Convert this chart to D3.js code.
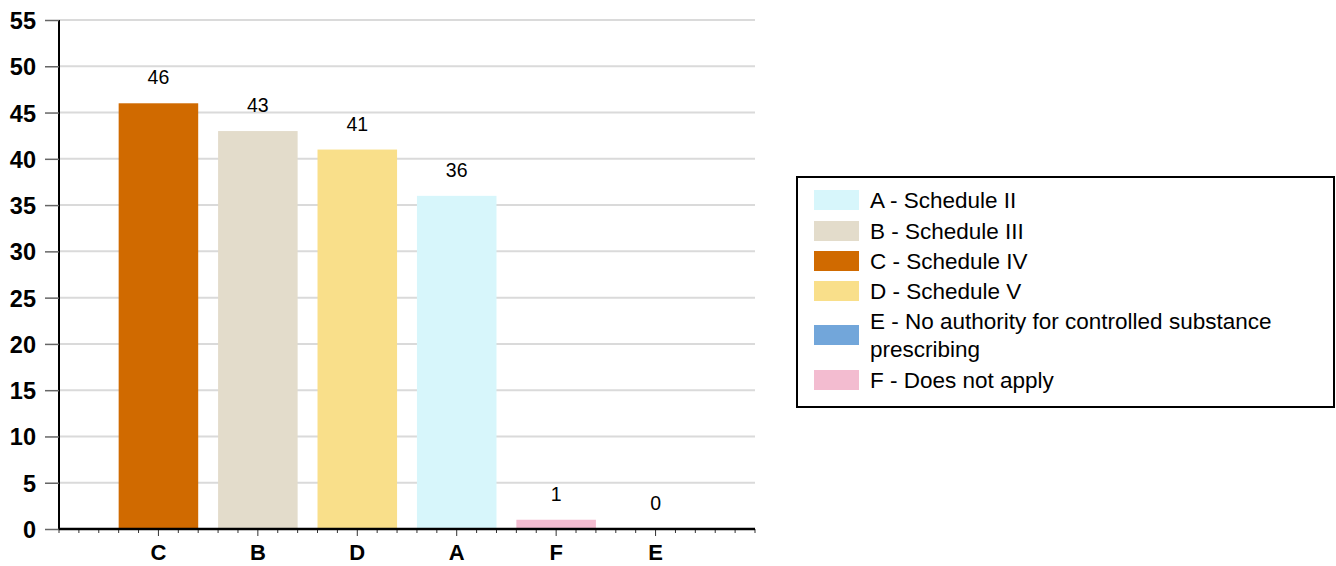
<!DOCTYPE html>
<html><head><meta charset="utf-8">
<script src="https://cdn.jsdelivr.net/npm/d3@7"></script>
<style>body{margin:0;background:#fff;}svg{display:block;font-family:"Liberation Sans",Arial,sans-serif;}</style>
</head><body>
<svg id="c" width="1336" height="566"></svg>
<script>
const categories = ["C","B","D","A","F","E"];
const values = [46,43,41,36,1,0];
const barColors = ["#d06a00","#e3dccb","#f9df8a","#d7f6fb","#f3bcd0","#72a6da"];
const legendLabels = [["A - Schedule II"],["B - Schedule III"],["C - Schedule IV"],["D - Schedule V"],["E - No authority for controlled substance","prescribing"],["F - Does not apply"]];
const legendColors = ["#d7f6fb","#e3dccb","#d06a00","#f9df8a","#72a6da","#f3bcd0"];
const yTicks = [0,5,10,15,20,25,30,35,40,45,50,55];

const svg = d3.select("#c");
const x0 = 59, x1 = 755, yTop = 20, yBot = 529;
const x = d3.scaleLinear().domain([0, categories.length + 1]).range([x0, x1]);
const y = d3.scaleLinear().domain([0, 55]).range([yBot, yTop]);
const slot = x(1) - x(0);

// gridlines
svg.append("g").selectAll("line").data(yTicks.filter(d => d > 0)).join("line")
  .attr("x1", x0).attr("x2", x1).attr("y1", d => y(d)).attr("y2", d => y(d))
  .attr("stroke", "#dadada").attr("stroke-width", 2);

// bars
svg.append("g").selectAll("rect").data(values).join("rect")
  .attr("x", (d, i) => x(i + 1) - slot * 0.4)
  .attr("width", slot * 0.8)
  .attr("y", d => y(d)).attr("height", d => yBot - y(d))
  .attr("fill", (d, i) => barColors[i]);

// value labels
svg.append("g").selectAll("text").data(values).join("text")
  .attr("x", (d, i) => x(i + 1)).attr("y", d => y(d) - 19)
  .attr("text-anchor", "middle").attr("font-size", 19.5).attr("fill", "#000")
  .text(d => d);

// y axis
const yAxis = d3.axisLeft(y).tickValues(yTicks).tickSize(14).tickPadding(9);
const gy = svg.append("g").attr("transform", `translate(${x0},0)`).call(yAxis);
gy.select(".domain").attr("stroke", "#000").attr("stroke-width", 2).attr("d", `M0,${yTop}V${yBot}`);
gy.selectAll(".tick line").attr("stroke", "#666").attr("stroke-width", 1.5);
gy.selectAll(".tick text").attr("font-size", 23.5).attr("font-weight", "bold").attr("fill", "#000")
  .attr("font-family", "Liberation Sans, Arial, sans-serif").attr("dy", "0.36em");

// x axis minor ticks
const minor = d3.range(0, (categories.length + 1) * 5 + 1).map(i => i / 5);
const gx = svg.append("g").attr("transform", `translate(0,${yBot})`);
gx.selectAll("line.minor").data(minor).join("line").attr("class", "minor")
  .attr("x1", d => x(d)).attr("x2", d => x(d)).attr("y1", 0)
  .attr("y2", d => Math.abs(d - Math.round(d)) < 1e-6 && d > 0 && d < categories.length + 1 ? 7 : 4)
  .attr("stroke", "#333").attr("stroke-width", 1);
gx.append("line").attr("x1", x0).attr("x2", x1).attr("y1", 0).attr("y2", 0)
  .attr("stroke", "#000").attr("stroke-width", 2.5);
gx.selectAll("text").data(categories).join("text")
  .attr("x", (d, i) => x(i + 1)).attr("y", 31)
  .attr("text-anchor", "middle").attr("font-size", 22).attr("font-weight", "bold")
  .text(d => d);

// legend
const lg = svg.append("g");
lg.append("rect").attr("x", 797).attr("y", 177).attr("width", 537).attr("height", 230)
  .attr("fill", "none").attr("stroke", "#000").attr("stroke-width", 2);
const rowY = [200, 231, 261, 291, 335, 380];
legendLabels.forEach((lines, i) => {
  lg.append("rect").attr("x", 814).attr("y", rowY[i] - 10).attr("width", 45).attr("height", 20)
    .attr("fill", legendColors[i]);
  const t = lg.append("text").attr("x", 870).attr("font-size", 22.5).attr("fill", "#000");
  const start = rowY[i] - (lines.length - 1) * 13.7;
  lines.forEach((s, j) => {
    t.append("tspan").attr("x", 870).attr("y", start + j * 27.4).attr("dy", "0.36em").text(s);
  });
});
</script>
</body></html>
